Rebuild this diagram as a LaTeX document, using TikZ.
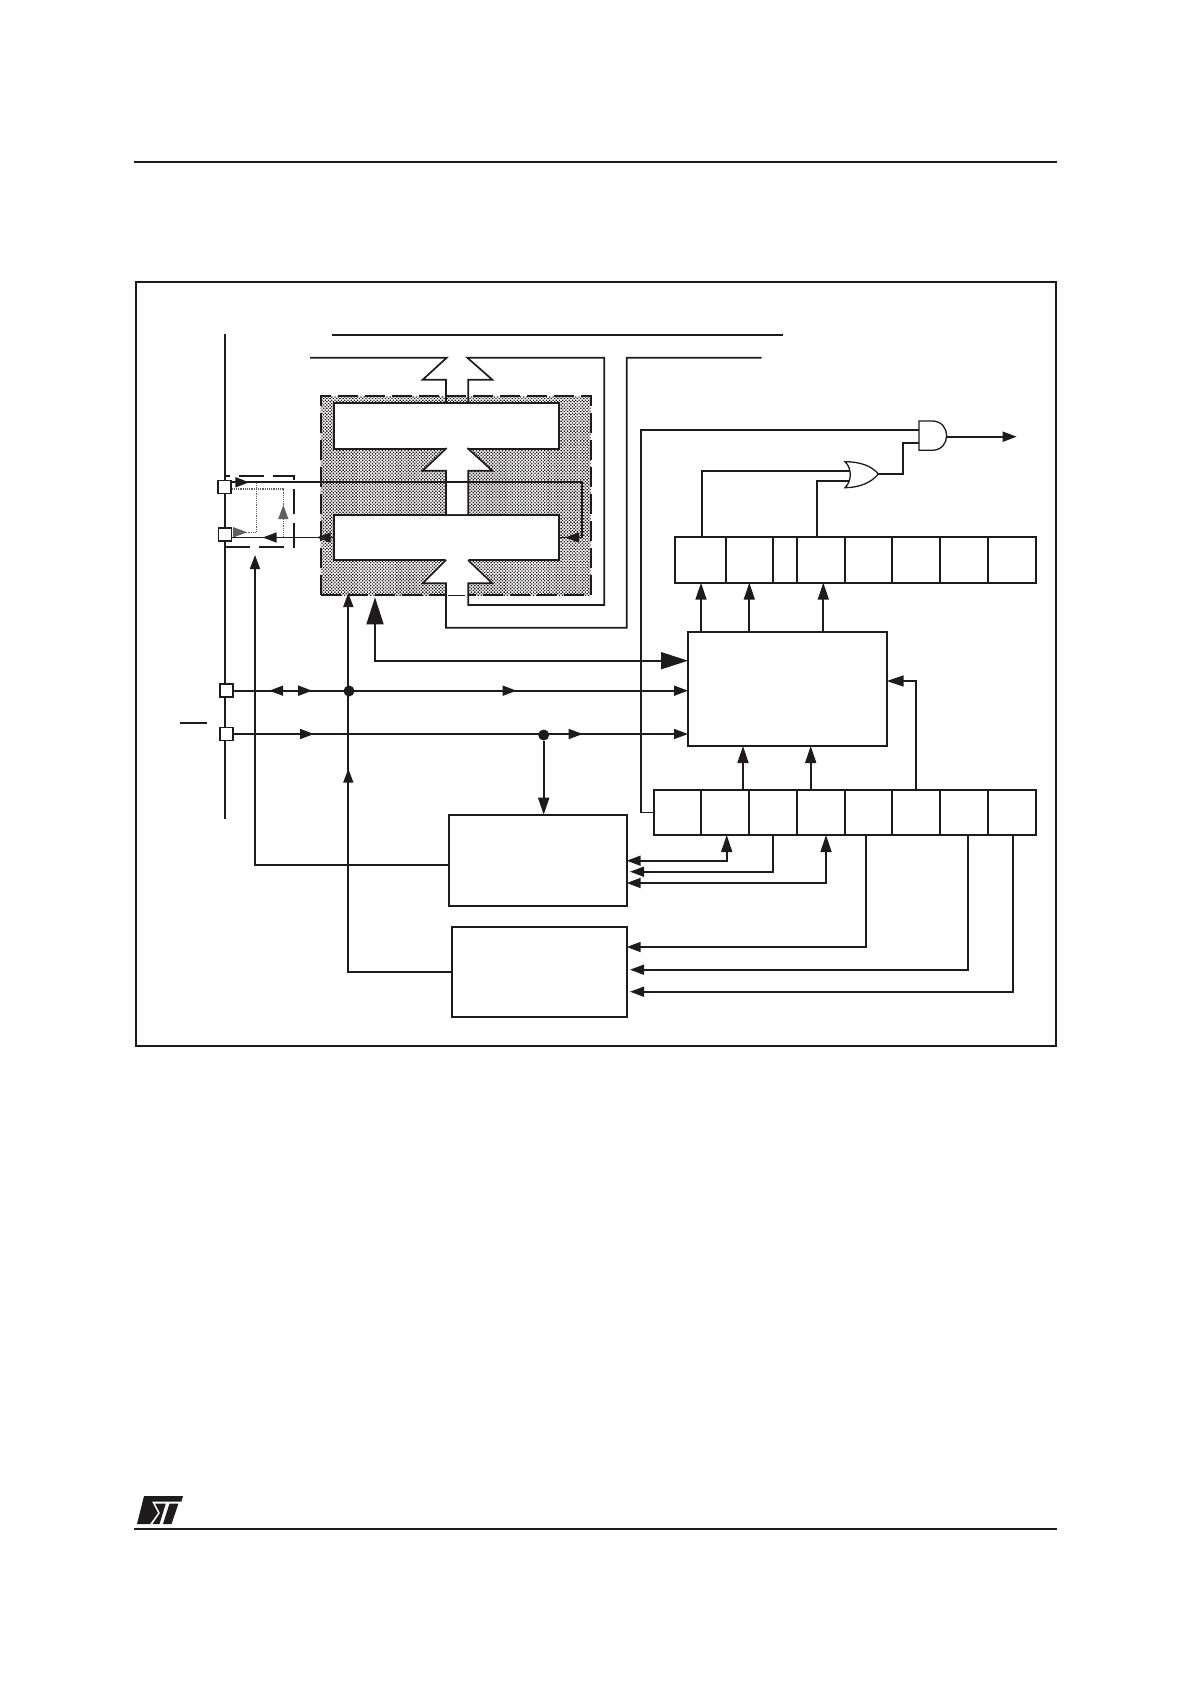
\documentclass[tikz,border=0pt]{standalone}
\usetikzlibrary{arrows.meta,decorations.markings,patterns.meta}
\definecolor{ink}{HTML}{1F1B1C}
\tikzset{
    triS/.tip={Triangle[length=14pt,width=10pt]},
    triM/.tip={Triangle[length=17pt,width=11pt]},
    triH/.tip={Triangle[length=27pt,width=17pt]},
    tipmark/.style={postaction={decorate,decoration={markings,mark=at position #1pt with {\arrow{triS}}}}},
    backmark/.style={postaction={decorate,decoration={markings,mark=at position #1pt with {\arrowreversed{triS}}}}}
}
\begin{document}
\begin{tikzpicture}[
        x=1pt, y=-1pt, color=ink, line width=1.7pt,
        box/.style={rectangle, draw, fill=white, outer sep=0pt},
        pin/.style={rectangle, draw, fill=white, outer sep=0pt, minimum size=13pt, inner sep=0pt},
        dot/.style={circle, fill=ink, minimum size=11pt, inner sep=0pt},
        cell/.style={rectangle, draw, outer sep=0pt, inner sep=0pt},
        dotty/.style={color=gray!75!black, line width=1.2pt, densely dotted},
        gate/.style={draw, fill=white, line width=1.3pt}
    ]
    \useasboundingbox (0,0) rectangle (1192,1685);
    % page rules and logo
    \coordinate (rulea) at (134,162);
    \coordinate (ruleb) at (1057,162);
    \coordinate (rulec) at (134,1529);
    \coordinate (ruled) at (1057,1529);
    \draw (rulea) -- (ruleb);
    \draw (rulec) -- (ruled);
    \fill (144,1496) -- (183,1496) -- (181.4,1501.6) -- (152,1501.6) -- (158,1513) -- (150,1524) -- (137,1524) -- cycle;
    \fill (155,1503.5) -- (165.8,1503.5) -- (159.5,1524) -- (152.5,1524) -- (160,1513) -- cycle;
    \fill (169.5,1503.5) -- (178.5,1503.5) -- (171.5,1524) -- (163,1524) -- cycle;
    \node[box, fill=none, minimum width=919.7pt, minimum height=764pt] (frame) at (595.85,664) {};

    % shaded latch area
    \node[rectangle, preaction={fill=white}, pattern={Dots[radius=0.95pt, distance=2.3pt, angle=45]}, pattern color=ink, draw, line width=2pt, dash pattern=on 20pt off 7pt, minimum width=270pt, minimum height=199pt, outer sep=0pt] (latch) at (455.7,495.5) {};
    \node[box, minimum width=225.3pt, minimum height=45.7pt] (topb) at (446.35,426.15) {};
    \node[box, minimum width=225.3pt, minimum height=45pt] (botb) at (446.35,537.5) {};
    \node[box, minimum width=177.7pt, minimum height=91pt] (timera) at (537.85,860.2) {};
    \node[box, minimum width=175pt, minimum height=90pt] (timerb) at (539.2,971.7) {};
    \node[box, minimum width=198.7pt, minimum height=114pt] (ctrl) at (787.35,689) {};

    % white bodies of the hollow arrows
    \fill[white] (446.7,447) -- (422.7,470.7) -- (446,470.7) -- (446,514) -- (468.3,514) -- (468.3,470.7) -- (492.3,470.7) -- (467.3,447) -- cycle;
    \fill[white] (446,559) -- (422.7,583.3) -- (446,583.3) -- (446,596) -- (468.3,596) -- (468.3,583.3) -- (492.3,583.3) -- (468,559) -- cycle;

    % data bus outlines
    \coordinate (busa) at (331.7,335);
    \coordinate (busb) at (782.7,335);
    \draw (busa) -- (busb);
    \draw (310,357.7) -- (446.7,357.7) -- (422.7,379.7) -- (446,379.7) -- (446,403.3);
    \draw (468.3,403.3) -- (468.3,379.7) -- (492.3,379.7) -- (467.3,357.7) -- (604.3,357.7) -- (604.3,605) -- (468.3,605) -- (468.3,583.3) -- (492.3,583.3) -- (468,560);
    \draw (446,560) -- (422.7,583.3) -- (446,583.3) -- (446,627.7) -- (626.7,627.7) -- (626.7,357.7) -- (761.7,357.7);
    \draw (446.7,448) -- (422.7,470.7) -- (446,470.7) -- (446,515);
    \draw (467.3,448) -- (492.3,470.7) -- (468.3,470.7) -- (468.3,515);
    \draw[line width=0.8pt] (448,595) -- (465,595);

    % pins
    \coordinate (railt) at (225,334);
    \coordinate (railb) at (225,819);
    \coordinate (bara) at (180,722.7);
    \coordinate (barb) at (207.3,722.7);
    \draw (railt) -- (railb);
    \draw (bara) -- (barb);
    \node[rectangle, draw, dash pattern=on 25pt off 9pt, outer sep=0pt, minimum width=69.3pt, minimum height=70.7pt] (pinbox) at (259.65,511.35) {};
    \draw[dotty, tipmark=32.5] (283.3,537.5) -- (283.3,489) -- (231,489);
    \draw[dotty, backmark=59.5] (256.7,482.3) -- (256.7,532.3) -- (232,532.3);
    \node[pin] (pina) at (224.5,487) {};
    \node[pin] (pinb) at (225,534.3) {};
    \node[pin] (pinc) at (226.7,690.7) {};
    \node[pin] (pind) at (226.7,734) {};

    % latch connections
    \coordinate (pa) at (231,482.3);
    \coordinate (pb) at (581.7,482.3);
    \draw[tipmark=18.3, tipmark=422.4] (pa) -- (pb) |- (botb.east);
    \draw[tipmark=17, tipmark=71] (botb.west) -- (pinb.east |- botb.west);

    % pin lines
    \node[dot] (dota) at (349,691) {};
    \node[dot] (dotb) at (543.7,735) {};
    \draw[-triS, backmark=36, tipmark=79, tipmark=283.4] (pinc.east) -- (ctrl.west |- pinc.east);
    \draw[-triS, tipmark=80.8, tipmark=349.5] (pind.east) -- (ctrl.west |- pind.east);
    \draw[-triM] (dotb) -- (dotb |- timera.north);

    % timer outputs
    \coordinate (ua) at (348.3,593);
    \coordinate (ub) at (255,555);
    \coordinate (wa) at (449,865);
    \draw[-triS, tipmark=306.4] (timerb.west) -| (ua);
    \draw[-triS] (wa) -| (ub);
    \coordinate (ubus) at (375,597.3);
    \coordinate (cbus) at (688,660.7);
    \draw[triH-triH] (ubus) |- (cbus);

    % registers
    \foreach \n/\xa/\xb in {1/675/726, 2/726/773.3, 3/773.3/796.7, 4/796.7/845, 5/845/892, 6/892/940, 7/940/988.3, 8/988.3/1036}
        \node[cell, minimum width={(\xb-\xa)*1pt}, minimum height=45.4pt] (up\n) at ({(\xa+\xb)/2},560) {};
    \foreach \n/\xa/\xb in {1/654.3/701, 2/701/749, 3/749/796.7, 4/796.7/845, 5/845/892, 6/892/940, 7/940/988.3, 8/988.3/1036}
        \node[cell, minimum width={(\xb-\xa)*1pt}, minimum height=45pt] (lo\n) at ({(\xa+\xb)/2},812.5) {};
    \foreach \n/\x in {ua/701, ub/749.3, uc/823.3}
        \coordinate (\n) at (\x,582.7);
    \foreach \n/\x in {na/743, nb/810.7, nc/916}
        \coordinate (\n) at (\x,790);
    \foreach \n/\x in {sa/726.7, sb/773.3, sc/826, sd/866, se/968, sf/1013.3}
        \coordinate (\n) at (\x,835);

    % register and control connections
    \draw[-triM] (ua |- ctrl.north) -- (ua);
    \draw[-triM] (ub |- ctrl.north) -- (ub);
    \draw[-triM] (uc |- ctrl.north) -- (uc);
    \draw[-triM] (na) -- (na |- ctrl.south);
    \draw[-triM] (nb) -- (nb |- ctrl.south);
    \coordinate (fb) at (886.7,681);
    \draw[-triM] (nc) |- (fb);
    \coordinate (ra) at (626.7,860.7);
    \coordinate (rb) at (630,871.7);
    \coordinate (rc) at (626.7,883);
    \coordinate (rd) at (626.7,947);
    \coordinate (re) at (630,969.7);
    \coordinate (rf) at (630,991.7);
    \draw[triM-triS] (sa) |- (ra);
    \draw[-triS] (sb) |- (rb);
    \draw[triM-triS] (sc) |- (rc);
    \draw[-triS] (sd) |- (rd);
    \draw[-triS] (se) |- (re);
    \draw[-triS] (sf) |- (rf);

    % gates
    \coordinate (andia) at (919,430);
    \coordinate (andib) at (919,442.7);
    \coordinate (andout) at (947.3,436.7);
    \coordinate (orout) at (878.3,474);
    \coordinate (oria) at (850,470.7);
    \coordinate (orib) at (850,481);
    \coordinate (va) at (701.7,537.3);
    \coordinate (vb) at (816.7,537.3);
    \coordinate (outp) at (1016.7,436.7);
    \draw (lo1.west) -| (641,430) -- (andia);
    \draw (va) |- (oria);
    \draw (vb) |- (orib);
    \draw (orout) -| (903.3,442.7) -- (andib);
    \draw[-triS] (andout) -- (outp);
    \draw[gate] (919,421) -- (932,421) .. controls (951.5,421) and (951.5,450.3) .. (932,450.3) -- (919,450.3) -- cycle;
    \draw[gate] (845,461.7) .. controls (860,461.7) and (872,466) .. (878.3,474) .. controls (872,482) and (860,487.7) .. (845,487.7) .. controls (852,481) and (852,468) .. (845,461.7) -- cycle;
\end{tikzpicture}
\end{document}
